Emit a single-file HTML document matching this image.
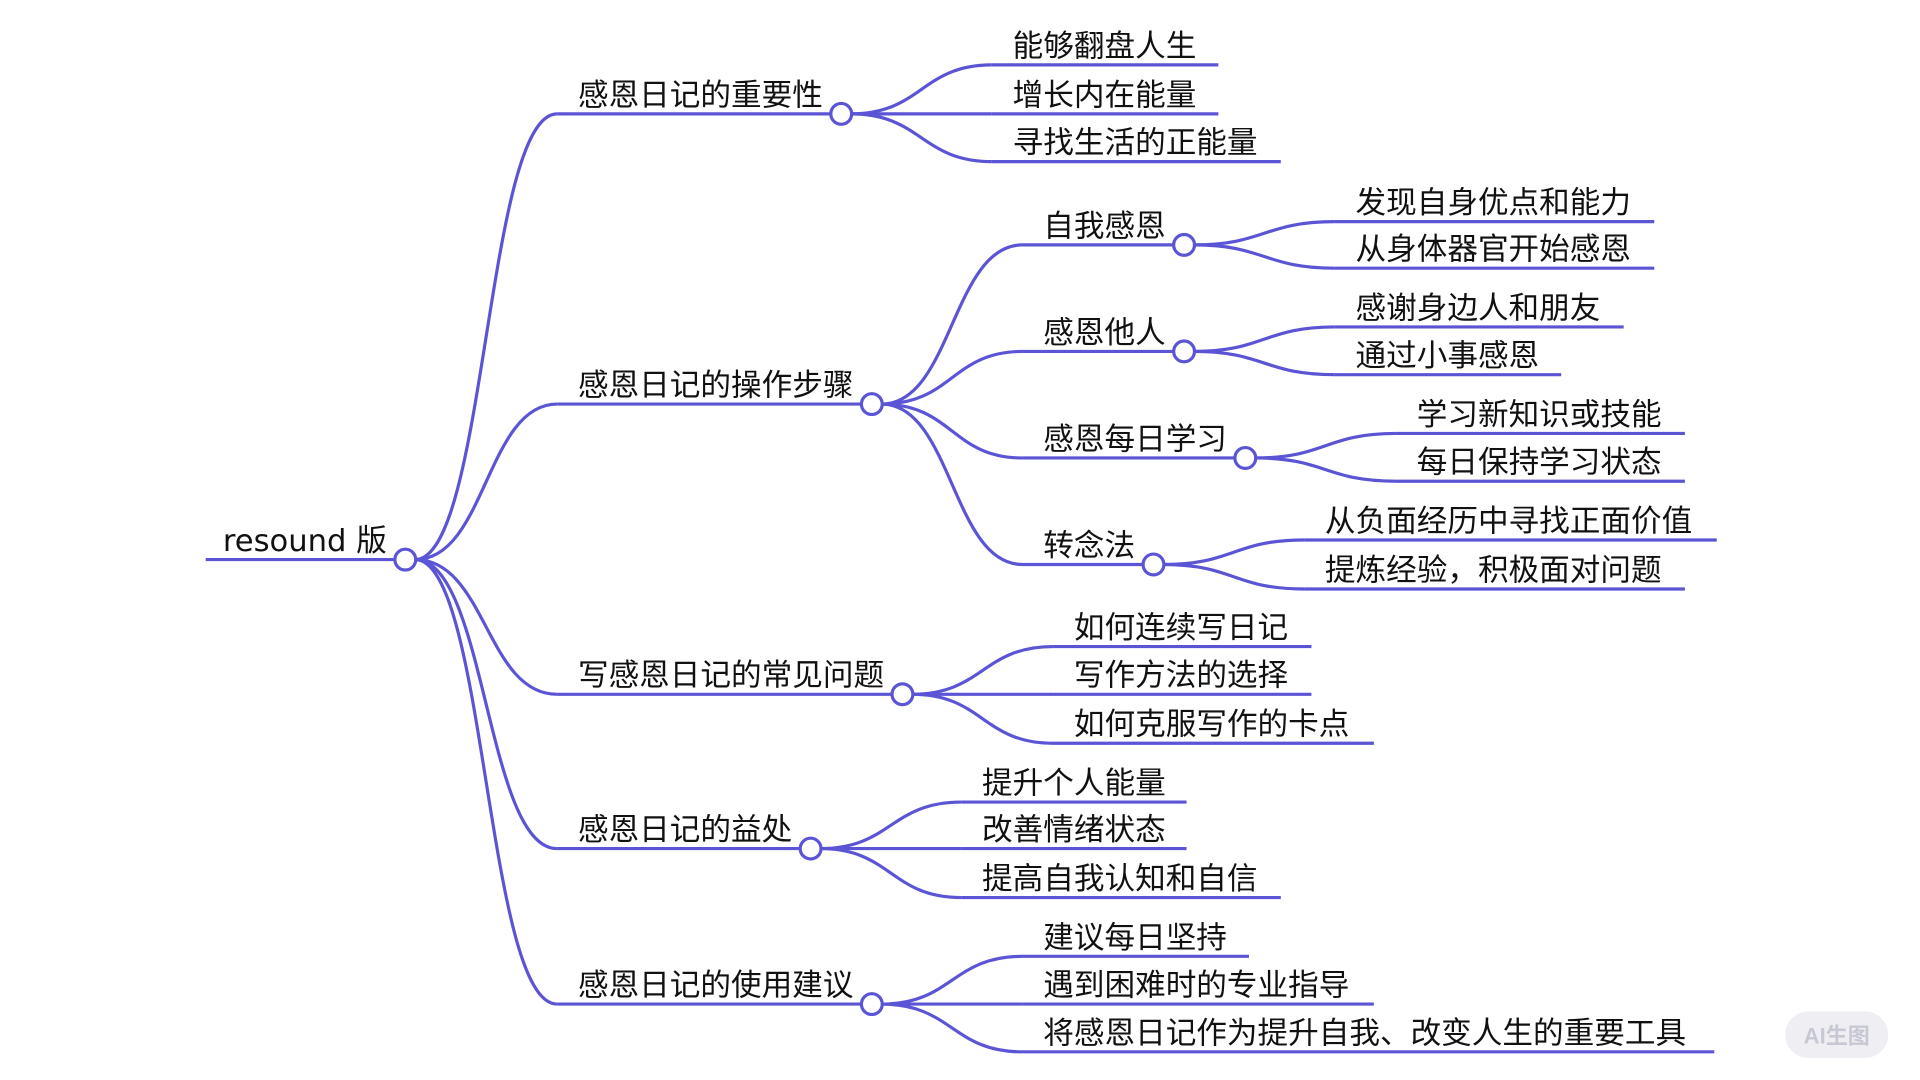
<!DOCTYPE html>
<html><head><meta charset="utf-8"><style>
html,body{margin:0;padding:0;background:#fff;width:1920px;height:1080px;overflow:hidden}
svg text{font-family:"DejaVu Sans","Noto Sans CJK SC",sans-serif;font-size:25px;fill:#111}
</style></head><body>
<svg id="s" width="1920" height="1080" viewBox="0 0 1568 882" xmlns="http://www.w3.org/2000/svg">
<g id="lines" fill="none" stroke="#5b55d6" stroke-width="2.6"></g>
<g id="labels"></g>
<g id="circles" fill="#fff" stroke="#5b55d6" stroke-width="2.6"></g>
<rect x="1458" y="826" width="84" height="38" rx="19" fill="#eeeef3"/>
<text x="1500" y="852" text-anchor="middle" style="font-family:'Liberation Sans','Noto Sans CJK SC',sans-serif;font-size:18px;fill:#c8c8d4;font-weight:bold">AI生图</text>
</svg>
<script>
const L=document.getElementById('lines'),T=document.getElementById('labels'),C=document.getElementById('circles');
const ns='http://www.w3.org/2000/svg';
function el(p,tag,a,txt){const e=document.createElementNS(ns,tag);for(const k in a)e.setAttribute(k,a[k]);if(txt)e.textContent=txt;p.appendChild(e);}
function node(x0,x1,y,label,tx,circle){
  el(L,'path',{d:`M${x0} ${y}H${x1}`});
  el(T,'text',{x:tx,y:y-7},label);
  if(circle) el(C,'circle',{cx:x1,cy:y,r:8.5});
}
function curve(px,py,x,y){
  const m=(x-px)*0.5;
  el(L,'path',{d:`M${px} ${py}C${px+m} ${py} ${x-m} ${y} ${x} ${y}`});
}
function kids(cx,cy,sx,arr){
  arr.forEach(a=>{curve(cx+8,cy,sx,a[1]);node(sx,a[2],a[1],a[0],sx+17,false);});
}
node(168,331,457,'resound 版',182,true);
const l1=[['感恩日记的重要性',93,687],['感恩日记的操作步骤',330,712],['写感恩日记的常见问题',567,737],['感恩日记的益处',693,662],['感恩日记的使用建议',820,712]];
l1.forEach(a=>{curve(339,457,455,a[1]);node(455,a[2],a[1],a[0],472,true);});
kids(687,93,810,[['能够翻盘人生',53,995],['增长内在能量',93,995],['寻找生活的正能量',132,1046]]);
const l2=[['自我感恩',200,967],['感恩他人',287,967],['感恩每日学习',374,1017],['转念法',461,942]];
l2.forEach(a=>{curve(720,330,835,a[1]);node(835,a[2],a[1],a[0],852,true);});
kids(967,200,1090,[['发现自身优点和能力',181,1351],['从身体器官开始感恩',219,1351]]);
kids(967,287,1090,[['感谢身边人和朋友',267,1326],['通过小事感恩',306,1275]]);
kids(1017,374,1140,[['学习新知识或技能',354,1376],['每日保持学习状态',393,1376]]);
kids(942,461,1065,[['从负面经历中寻找正面价值',441,1402],['提炼经验，积极面对问题',481,1376]]);
kids(737,567,860,[['如何连续写日记',528,1071],['写作方法的选择',567,1071],['如何克服写作的卡点',607,1122]]);
kids(662,693,785,[['提升个人能量',655,969],['改善情绪状态',693,969],['提高自我认知和自信',733,1046]]);
kids(712,820,835,[['建议每日坚持',781,1020],['遇到困难时的专业指导',820,1122],['将感恩日记作为提升自我、改变人生的重要工具',859,1400]]);
</script>
</body></html>
